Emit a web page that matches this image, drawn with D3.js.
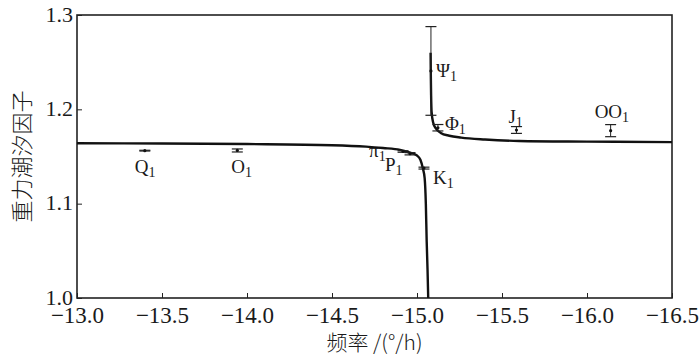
<!DOCTYPE html>
<html>
<head>
<meta charset="utf-8">
<script src="https://cdn.jsdelivr.net/npm/d3@7"></script>
<style>
    body { margin: 0; background: #fff; }
</style>
</head>
<body>
<svg id="chart" width="700" height="358"></svg>
<script>
// diurnal tidal waves: frequency (deg/h, plotted negative) and gravimetric factor
const waveNames = ['Q', 'O', 'π', 'P', 'K', 'Ψ', 'Φ', 'J', 'OO'];
const waveFreq = [-13.399, -13.943, -14.918, -14.959, -15.041, -15.082, -15.123, -15.585, -16.139];
const waveFactor = [1.1562, 1.1564, 1.1553, 1.1529, 1.1377, 1.2407, 1.1805, 1.1781, 1.1774];
const waveError = [0.0004, 0.0016, 0.0008, 0.0012, 0.0010, 0.0470, 0.0034, 0.0036, 0.0064];

// resonance curve, one branch each side of the FCN
const lowFreq = [-13.0, -13.5, -14.0, -14.5, -14.7, -14.8, -14.9, -14.95, -15.0, -15.02, -15.035, -15.045, -15.052, -15.057, -15.062, -15.066];
const lowFactor = [1.1640, 1.1638, 1.1632, 1.1620, 1.1605, 1.1590, 1.1570, 1.1545, 1.1510, 1.1465, 1.1370, 1.1270, 1.1000, 1.0600, 1.0300, 1.0000];
const highFreq = [-15.080, -15.081, -15.083, -15.086, -15.095, -15.11, -15.14, -15.19, -15.26, -15.4, -15.6, -16.0, -16.5];
const highFactor = [1.2600, 1.2400, 1.2150, 1.1970, 1.1860, 1.1800, 1.1750, 1.1720, 1.1700, 1.1680, 1.1665, 1.1658, 1.1652];

const xTicks = [-13.0, -13.5, -14.0, -14.5, -15.0, -15.5, -16.0, -16.5];
const yTicks = [1.0, 1.1, 1.2, 1.3];

// where each wave's name sits relative to its error bar (px)
const labelOffset = {
    'Q': [-10, 22], 'O': [-6, 22.5], 'π': [-34, 5], 'P': [-25, 17], 'K': [9, 15.5],
    'Ψ': [5, 6], 'Φ': [7, 2], 'J': [-8, -7], 'OO': [-16, -12.5]
};

const serif = '"Liberation Serif", "Times New Roman", serif';
const cjk = '"Noto Sans CJK SC", sans-serif';

const margin = {top: 15, right: 28, bottom: 60, left: 77};
const width = 700 - margin.left - margin.right;
const height = 358 - margin.top - margin.bottom;

const svg = d3.select('#chart');
const g = svg.append('g')
    .attr('transform', 'translate(' + margin.left + ',' + margin.top + ')');

const x = d3.scaleLinear().domain([-13.0, -16.5]).range([0, width]);
const y = d3.scaleLinear().domain([1.0, 1.3]).range([height, 0]);

const fmt = d => d.toFixed(1).replace('-', '\u2212');

const xAxis = d3.axisBottom(x)
    .tickValues(xTicks)
    .tickSizeInner(-5)
    .tickSizeOuter(0)
    .tickPadding(20)
    .tickFormat(fmt);

const yAxis = d3.axisLeft(y)
    .tickValues(yTicks)
    .tickSizeInner(-5)
    .tickSizeOuter(0)
    .tickPadding(4)
    .tickFormat(fmt);

const xAxisSvg = g.append('g')
    .attr('transform', 'translate(0,' + height + ')')
    .call(xAxis);

const yAxisSvg = g.append('g').call(yAxis);

[xAxisSvg, yAxisSvg].forEach(a => {
    a.attr('font-family', serif);
    a.select('.domain').remove();
    a.selectAll('line').attr('stroke', '#222').attr('stroke-width', 1);
    a.selectAll('text').attr('fill', '#1a1a1a');
});
xAxisSvg.attr('font-size', 23);
xAxisSvg.selectAll('text').attr('dy', '0.2em');
yAxisSvg.attr('font-size', 22);
yAxisSvg.selectAll('text').attr('dy', '0.28em');

// frame
g.append('rect')
    .attr('width', width)
    .attr('height', height)
    .attr('fill', 'none')
    .attr('stroke', '#222')
    .attr('stroke-width', 1.6);

// resonance curve
const line = d3.line()
    .x(d => x(d[0]))
    .y(d => y(d[1]))
    .curve(d3.curveMonotoneX);

[[lowFreq, lowFactor], [highFreq, highFactor]].forEach(([fs, vs]) => {
    g.append('path')
        .datum(fs.map((f, i) => [f, vs[i]]))
        .attr('fill', 'none')
        .attr('stroke', '#111')
        .attr('stroke-width', 2.4)
        .attr('d', line);
});

// error bars
const waves = waveNames.map((name, i) => ({
    name: name, f: waveFreq[i], v: waveFactor[i], e: waveError[i]
}));

const bars = g.append('g').selectAll('g')
    .data(waves)
    .join('g')
    .attr('transform', d => 'translate(' + x(d.f) + ',0)');

bars.append('line')
    .attr('y1', d => y(d.v - d.e))
    .attr('y2', d => y(d.v + d.e))
    .attr('stroke', '#222')
    .attr('stroke-width', 1);

bars.selectAll('.cap')
    .data(d => [d.v - d.e, d.v + d.e])
    .join('line')
    .attr('class', 'cap')
    .attr('x1', -5.5)
    .attr('x2', 5.5)
    .attr('y1', v => y(v))
    .attr('y2', v => y(v))
    .attr('stroke', '#222')
    .attr('stroke-width', 1.2);

bars.append('circle')
    .attr('cy', d => y(d.v))
    .attr('r', 1.6)
    .attr('fill', '#111');

// wave names with subscript 1
const labels = bars.append('text')
    .attr('x', d => labelOffset[d.name][0])
    .attr('y', d => y(d.v) + labelOffset[d.name][1])
    .attr('font-family', serif)
    .attr('font-size', 19)
    .attr('fill', '#1a1a1a');

labels.append('tspan').text(d => d.name);
labels.append('tspan')
    .attr('font-size', 14)
    .attr('dy', 4)
    .text('1');

// axis titles
svg.append('text')
    .attr('x', margin.left + width / 2)
    .attr('y', 350)
    .attr('text-anchor', 'middle')
    .attr('font-family', cjk)
    .attr('font-size', 21)
    .attr('font-weight', 300)
    .attr('fill', '#1a1a1a')
    .text('频率 /(°/h)');

svg.append('text')
    .attr('transform', 'translate(30,' + (margin.top + height / 2) + ') rotate(-90)')
    .attr('text-anchor', 'middle')
    .attr('font-family', cjk)
    .attr('font-size', 22)
    .attr('font-weight', 300)
    .attr('fill', '#1a1a1a')
    .text('重力潮汐因子');
</script>
</body>
</html>
